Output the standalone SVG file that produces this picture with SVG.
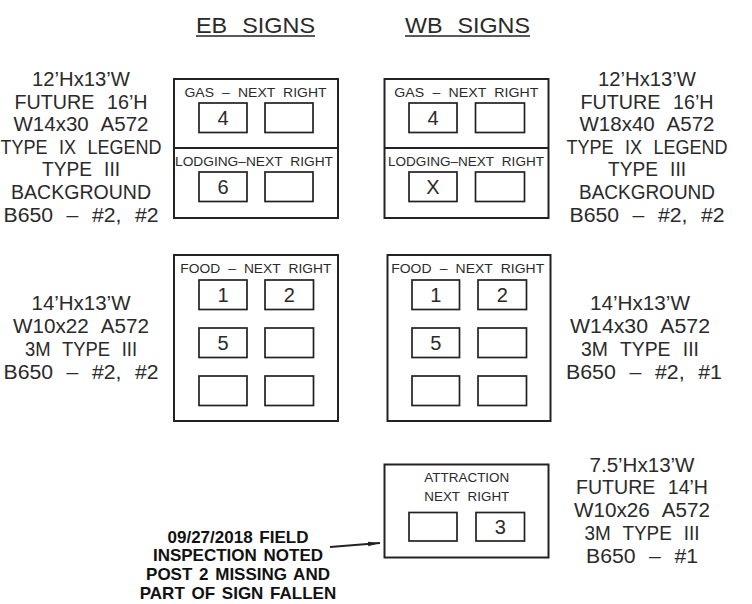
<svg xmlns="http://www.w3.org/2000/svg" width="752" height="604" viewBox="0 0 752 604">
<defs>
<style>
.t{font-family:"Liberation Sans",Arial,sans-serif;fill:#2a2a2a;text-anchor:middle}
.big{font-size:19.5px;word-spacing:7px}
.hdr{font-size:22px;word-spacing:8px}
.lbl{font-size:13px;word-spacing:4px}
.dig{font-size:20px}
.note{font-family:"Liberation Sans",Arial,sans-serif;font-weight:bold;font-size:17px;fill:#111;text-anchor:middle;word-spacing:2px}
.outer{fill:none;stroke:#222;stroke-width:2}
.inner{fill:none;stroke:#222;stroke-width:1.7}
.conn{fill:none;stroke:#222;stroke-width:1.8}
</style>
<marker id="ah" viewBox="0 0 12 6" refX="12" refY="3" markerWidth="12" markerHeight="6" markerUnits="userSpaceOnUse" orient="auto">
<path d="M0,0.8 L12,3 L0,5.2 Z" fill="#222"/>
</marker>
</defs>

<g id="headers">
<text class="t hdr" x="255.5" y="32.5" textLength="119" lengthAdjust="spacingAndGlyphs">EB SIGNS</text>
<line x1="196" y1="36" x2="315" y2="36" stroke="#222" stroke-width="1.3"/>
<text class="t hdr" x="467.5" y="32.5" textLength="125" lengthAdjust="spacingAndGlyphs">WB SIGNS</text>
<line x1="405" y1="36" x2="530" y2="36" stroke="#222" stroke-width="1.3"/>
</g>

<g id="eb-top-notes">
<text class="t big" x="81" y="86" textLength="98" lengthAdjust="spacingAndGlyphs">12’Hx13’W</text>
<text class="t big" x="81" y="108.6" textLength="133" lengthAdjust="spacingAndGlyphs">FUTURE 16’H</text>
<text class="t big" x="81" y="131.2" textLength="135" lengthAdjust="spacingAndGlyphs">W14x30 A572</text>
<text class="t big" x="81" y="153.8" textLength="161" lengthAdjust="spacingAndGlyphs">TYPE IX LEGEND</text>
<text class="t big" x="81" y="176.4" textLength="78" lengthAdjust="spacingAndGlyphs">TYPE III</text>
<text class="t big" x="81" y="199" textLength="140" lengthAdjust="spacingAndGlyphs">BACKGROUND</text>
<text class="t big" x="81" y="221.6" textLength="155" lengthAdjust="spacingAndGlyphs">B650 – #2, #2</text>
</g>

<g id="wb-top-notes">
<text class="t big" x="647" y="86" textLength="98" lengthAdjust="spacingAndGlyphs">12’Hx13’W</text>
<text class="t big" x="647" y="108.6" textLength="133" lengthAdjust="spacingAndGlyphs">FUTURE 16’H</text>
<text class="t big" x="647" y="131.2" textLength="135" lengthAdjust="spacingAndGlyphs">W18x40 A572</text>
<text class="t big" x="647" y="153.8" textLength="161" lengthAdjust="spacingAndGlyphs">TYPE IX LEGEND</text>
<text class="t big" x="647" y="176.4" textLength="78" lengthAdjust="spacingAndGlyphs">TYPE III</text>
<text class="t big" x="647" y="199" textLength="136" lengthAdjust="spacingAndGlyphs">BACKGROUND</text>
<text class="t big" x="647" y="221.6" textLength="155" lengthAdjust="spacingAndGlyphs">B650 – #2, #2</text>
</g>

<g id="eb-gas-lodging-sign">
<rect class="outer" x="174" y="79" width="164" height="139"/>
<line class="outer" x1="174" y1="148" x2="338" y2="148"/>
<text class="t lbl" x="255.5" y="96.7" textLength="142" lengthAdjust="spacingAndGlyphs">GAS – NEXT RIGHT</text>
<rect class="inner" x="199" y="103" width="48" height="29.5"/>
<rect class="inner" x="265" y="103" width="48" height="29.5"/>
<text class="t dig" x="223" y="124.5">4</text>
<text class="t lbl" x="254" y="166" textLength="158" lengthAdjust="spacingAndGlyphs">LODGING–NEXT RIGHT</text>
<rect class="inner" x="199" y="172" width="48" height="29.5"/>
<rect class="inner" x="265" y="172" width="48" height="29.5"/>
<text class="t dig" x="223" y="193.5">6</text>
</g>

<g id="wb-gas-lodging-sign">
<rect class="outer" x="384.5" y="79" width="164" height="139"/>
<line class="outer" x1="384.5" y1="148" x2="548.5" y2="148"/>
<text class="t lbl" x="466.3" y="96.7" textLength="144" lengthAdjust="spacingAndGlyphs">GAS – NEXT RIGHT</text>
<rect class="inner" x="409" y="103" width="48" height="29.5"/>
<rect class="inner" x="475.5" y="103" width="49" height="29.5"/>
<text class="t dig" x="433" y="124.5">4</text>
<text class="t lbl" x="466" y="166" textLength="156" lengthAdjust="spacingAndGlyphs">LODGING–NEXT RIGHT</text>
<rect class="inner" x="409" y="172" width="48" height="29.5"/>
<rect class="inner" x="475.5" y="172" width="49" height="29.5"/>
<text class="t dig" x="433" y="193.5">X</text>
</g>

<g id="eb-food-notes">
<text class="t big" x="81" y="310" textLength="99" lengthAdjust="spacingAndGlyphs">14’Hx13’W</text>
<text class="t big" x="81" y="333" textLength="136" lengthAdjust="spacingAndGlyphs">W10x22 A572</text>
<text class="t big" x="81" y="355.7" textLength="112" lengthAdjust="spacingAndGlyphs">3M TYPE III</text>
<text class="t big" x="81" y="378.5" textLength="155" lengthAdjust="spacingAndGlyphs">B650 – #2, #2</text>
</g>

<g id="eb-food-sign">
<rect class="outer" x="174" y="255" width="164" height="166"/>
<text class="t lbl" x="255.8" y="273.3" textLength="151" lengthAdjust="spacingAndGlyphs">FOOD – NEXT RIGHT</text>
<rect class="inner" x="199" y="280" width="48" height="29.5"/>
<rect class="inner" x="265" y="280" width="48.5" height="29.5"/>
<rect class="inner" x="199" y="328" width="48" height="29.5"/>
<rect class="inner" x="265" y="328" width="48.5" height="29.5"/>
<rect class="inner" x="199" y="376" width="48" height="29.5"/>
<rect class="inner" x="265" y="376" width="48.5" height="29.5"/>
<text class="t dig" x="223" y="301.5">1</text>
<text class="t dig" x="289.3" y="301.5">2</text>
<text class="t dig" x="223" y="349.5">5</text>
</g>

<g id="wb-food-sign">
<rect class="outer" x="387.5" y="255" width="163" height="166"/>
<text class="t lbl" x="467.7" y="273.3" textLength="153" lengthAdjust="spacingAndGlyphs">FOOD – NEXT RIGHT</text>
<rect class="inner" x="412" y="280" width="47.5" height="29.5"/>
<rect class="inner" x="478" y="280" width="48.5" height="29.5"/>
<rect class="inner" x="412" y="328" width="47.5" height="29.5"/>
<rect class="inner" x="478" y="328" width="48.5" height="29.5"/>
<rect class="inner" x="412" y="376" width="47.5" height="29.5"/>
<rect class="inner" x="478" y="376" width="48.5" height="29.5"/>
<text class="t dig" x="435.7" y="301.5">1</text>
<text class="t dig" x="502.2" y="301.5">2</text>
<text class="t dig" x="435.7" y="349.5">5</text>
</g>

<g id="wb-food-notes">
<text class="t big" x="640" y="310" textLength="100" lengthAdjust="spacingAndGlyphs">14’Hx13’W</text>
<text class="t big" x="640" y="333" textLength="140" lengthAdjust="spacingAndGlyphs">W14x30 A572</text>
<text class="t big" x="640" y="355.7" textLength="118" lengthAdjust="spacingAndGlyphs">3M TYPE III</text>
<text class="t big" x="644" y="378.5" textLength="156" lengthAdjust="spacingAndGlyphs">B650 – #2, #1</text>
</g>

<g id="attraction-sign">
<rect class="outer" x="384.5" y="464.5" width="164" height="93"/>
<text class="t lbl" x="466.8" y="482.3" textLength="85" lengthAdjust="spacingAndGlyphs">ATTRACTION</text>
<text class="t lbl" x="466.8" y="501" textLength="85" lengthAdjust="spacingAndGlyphs">NEXT RIGHT</text>
<rect class="inner" x="409" y="512.5" width="48" height="28.5"/>
<rect class="inner" x="476" y="512.5" width="48.5" height="28.5"/>
<text class="t dig" x="500.3" y="533.8">3</text>
</g>

<g id="attraction-notes">
<text class="t big" x="642" y="471.7" textLength="105" lengthAdjust="spacingAndGlyphs">7.5’Hx13’W</text>
<text class="t big" x="642" y="494.4" textLength="132" lengthAdjust="spacingAndGlyphs">FUTURE 14’H</text>
<text class="t big" x="642" y="517.1" textLength="136" lengthAdjust="spacingAndGlyphs">W10x26 A572</text>
<text class="t big" x="642" y="539.8" textLength="115" lengthAdjust="spacingAndGlyphs">3M TYPE III</text>
<text class="t big" x="642" y="562.5" textLength="112" lengthAdjust="spacingAndGlyphs">B650 – #1</text>
</g>

<g id="field-note">
<text class="note" x="238" y="542.5">09/27/2018 FIELD</text>
<text class="note" x="238" y="561">INSPECTION NOTED</text>
<text class="note" x="238" y="580">POST 2 MISSING AND</text>
<text class="note" x="238" y="598.5">PART OF SIGN FALLEN</text>
</g>

<g id="connectors">
<path class="conn" d="M330,547 L380,543" marker-end="url(#ah)"/>
</g>
</svg>
